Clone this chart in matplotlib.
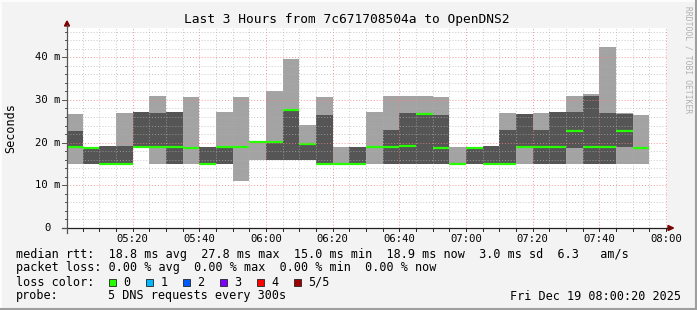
import matplotlib
matplotlib.use("Agg")
import matplotlib.pyplot as plt
from matplotlib.lines import Line2D
from matplotlib.patches import Rectangle, Polygon
import numpy as np

W, H = 697, 310

# 5 min steps starting at 05:00, values in ms (sorted pings per step)
ping_min = [15.0, 15.0, 15.0, 15.0, 19.0, 15.0, 15.0, 15.0, 15.0, 15.0, 11.1, 15.9,
            15.9, 15.9, 15.9, 15.0, 15.0, 15.0, 15.0, 15.0, 15.0, 15.0, 15.0, 15.0,
            15.0, 15.0, 15.0, 15.0, 15.0, 15.0, 15.0, 15.0, 15.0, 15.0, 15.0]
ping_low = [19.0, 15.0, 15.0, 15.0, 19.0, 19.0, 15.0, 18.7, 15.0, 15.0, 19.0, 20.1,
            15.9, 15.9, 15.9, 15.0, 15.0, 15.0, 19.0, 15.0, 15.0, 15.0, 15.0, 15.0,
            15.0, 15.0, 15.0, 19.0, 15.0, 15.0, 18.7, 15.0, 15.0, 19.0, 18.7]
median = [19.0, 18.8, 15.0, 15.0, 19.0, 19.0, 19.0, 18.7, 15.0, 19.0, 19.0, 20.1,
          20.2, 27.6, 19.7, 15.0, 15.0, 15.0, 19.0, 19.0, 19.3, 26.8, 18.7, 15.0,
          18.7, 15.0, 15.0, 19.0, 19.0, 19.0, 22.8, 19.0, 19.0, 22.8, 18.7]
ping_high = [22.7, 18.8, 19.2, 19.2, 27.2, 26.9, 27.2, 18.7, 19.0, 19.0, 19.0, 20.1,
             20.2, 27.6, 19.7, 26.5, 15.0, 19.0, 19.0, 23.0, 26.9, 26.8, 26.5, 15.0,
             18.9, 19.1, 23.0, 26.7, 23.0, 27.2, 27.2, 31.0, 26.9, 26.6, 18.7]
ping_max = [26.7, 18.8, 19.2, 26.9, 27.2, 30.9, 27.2, 30.7, 19.0, 27.2, 30.7, 20.1,
            32.1, 39.6, 24.1, 30.7, 18.9, 19.0, 27.2, 30.9, 30.9, 30.9, 30.7, 18.9,
            18.9, 19.1, 26.9, 26.7, 26.9, 27.2, 30.9, 31.4, 42.5, 26.9, 26.5]

x_labels = ["05:20", "05:40", "06:00", "06:20", "06:40", "07:00", "07:20", "07:40", "08:00"]
y_labels = ["0", "10 m", "20 m", "30 m", "40 m"]

legend_names = ["0", "1", "2", "3", "4", "5/5"]
legend_colors = ["#26ff00", "#00b8ff", "#0059ff", "#7e00ff", "#ff0000", "#a10000"]

stats_lines = [
    "median rtt:  18.8 ms avg  27.8 ms max  15.0 ms min  18.9 ms now  3.0 ms sd  6.3   am/s",
    "packet loss: 0.00 % avg  0.00 % max  0.00 % min  0.00 % now",
]


def px(x, y):
    return x / W, 1 - y / H


fig = plt.figure(figsize=(W / 100, H / 100), dpi=100)
fig.patch.set_facecolor("#f3f3f3")
mono = "DejaVu Sans Mono"

# plot area: 600x200 px at (67, 28)
ax = fig.add_axes([67 / W, 1 - 228 / H, 600 / W, 200 / H])
ax.set_facecolor("white")
x0, x1 = 20 / 60, 180 + 20 / 60
ax.set_xlim(x0, x1)
ax.set_ylim(0, 46.85)
for s in ax.spines.values():
    s.set_visible(False)
ax.set_xticks([])
ax.set_yticks([])

step = 5
starts = np.arange(len(median)) * step
lo = np.array(ping_min)
hi = np.array(ping_max)
ax.bar(starts, hi - lo, bottom=lo, width=step, align="edge", color="#a3a3a3", lw=0, zorder=2)
q1 = np.array(ping_low)
q3 = np.array(ping_high)
ax.bar(starts, q3 - q1, bottom=q1, width=step, align="edge", color="#555555", lw=0, zorder=3)
ax.hlines(median, starts, starts + step, colors="#26ff00", lw=1.6, zorder=4)

# grid, drawn over the smoke like rrdtool
for m in np.arange(0, 181, 5):
    if x0 < m < x1:
        major = m % 20 == 0
        ax.axvline(m, color="#f08080" if major else "#b0b0b0", lw=0.7,
                   ls=(0, (1, 2)), alpha=0.8 if major else 0.7, zorder=5)
for v in np.arange(2, 47, 2):
    major = v % 10 == 0
    ax.axhline(v, color="#f08080" if major else "#b0b0b0", lw=0.7,
               ls=(0, (1, 2)), alpha=0.8 if major else 0.7, zorder=5)

# axes lines and arrows
fig.add_artist(Line2D(*zip(px(62, 228), px(668, 228)), color="#222222", lw=0.9))
fig.add_artist(Line2D(*zip(px(67, 233), px(67, 25)), color="#555555", lw=0.9))
fig.add_artist(Polygon([px(668, 225.5), px(673.5, 228), px(668, 230.5)], closed=True,
                       color="#7f0000", transform=fig.transFigure))
fig.add_artist(Polygon([px(64.5, 26), px(67, 21), px(69.5, 26)], closed=True,
                       color="#7f0000", transform=fig.transFigure))

# ticks
for m in np.arange(5, 181, 5):
    xp = 67 + (m - x0) * 600 / 180
    if xp < 667:
        fig.add_artist(Line2D(*zip(px(xp, 228), px(xp, 231)), color="#222222", lw=0.7))
for v in np.arange(0, 47, 2):
    yp = 228 - v * 200 / 46.85
    ln = 5 if v % 10 == 0 else 2
    fig.add_artist(Line2D(*zip(px(67 - ln, yp), px(67, yp)), color="#555555", lw=0.7))

for i, lab in enumerate(x_labels):
    m = 20 * (i + 1)
    xp = 67 + (m - x0) * 600 / 180
    fig.text(*px(xp, 238.5), lab, ha="center", va="center", fontsize=7.6, family=mono)
for i, lab in enumerate(y_labels):
    yp = 228 - 10 * i * 200 / 46.85
    fig.text(*px(47.5, yp), lab, ha="center", va="center", fontsize=7.6, family=mono)

fig.text(*px(11, 128), "Seconds", rotation=90, ha="center", va="center",
         fontsize=8.5, family=mono)
fig.text(*px(347, 19), "Last 3 Hours from 7c671708504a to OpenDNS2", ha="center",
         va="center", fontsize=9.3, family=mono)
fig.text(*px(688, 60), "RRDTOOL / TOBI OETIKER", rotation=270, ha="center", va="center",
         fontsize=5.8, family=mono, color="#b0b0b0")

# legend
fig.text(*px(16, 254.3), stats_lines[0], ha="left", va="center", fontsize=8.5, family=mono)
fig.text(*px(16, 268), stats_lines[1], ha="left", va="center", fontsize=8.5, family=mono)
fig.text(*px(16, 282.3), "loss color:", ha="left", va="center", fontsize=8.5, family=mono)
for i, (name, col) in enumerate(zip(legend_names, legend_colors)):
    bx = 108.7 + 37 * i
    fig.add_artist(Rectangle(px(bx, 286), 7 / W, 7 / H, transform=fig.transFigure,
                             facecolor=col, edgecolor="#222222", lw=0.6))
    fig.text(*px(bx + 14.5, 282.3), name, ha="left", va="center", fontsize=8.5, family=mono)
fig.text(*px(16, 296), "probe:", ha="left", va="center", fontsize=8.5, family=mono)
fig.text(*px(107.5, 296), "5 DNS requests every 300s", ha="left", va="center",
         fontsize=8.5, family=mono)
fig.text(*px(680.5, 296), "Fri Dec 19 08:00:20 2025", ha="right", va="center",
         fontsize=8.5, family=mono)

# 3d frame
fig.add_artist(Line2D(*zip(px(0.5, 0.5), px(W, 0.5)), color="#fcfcfc", lw=1.5))
fig.add_artist(Line2D(*zip(px(0.5, 0.5), px(0.5, H)), color="#fcfcfc", lw=1.5))
fig.add_artist(Line2D(*zip(px(0, H - 1), px(W, H - 1)), color="#9e9e9e", lw=1.5))
fig.add_artist(Line2D(*zip(px(W - 1, 0), px(W - 1, H)), color="#9e9e9e", lw=1.5))

fig.savefig("out.png", dpi=100, facecolor=fig.get_facecolor())
